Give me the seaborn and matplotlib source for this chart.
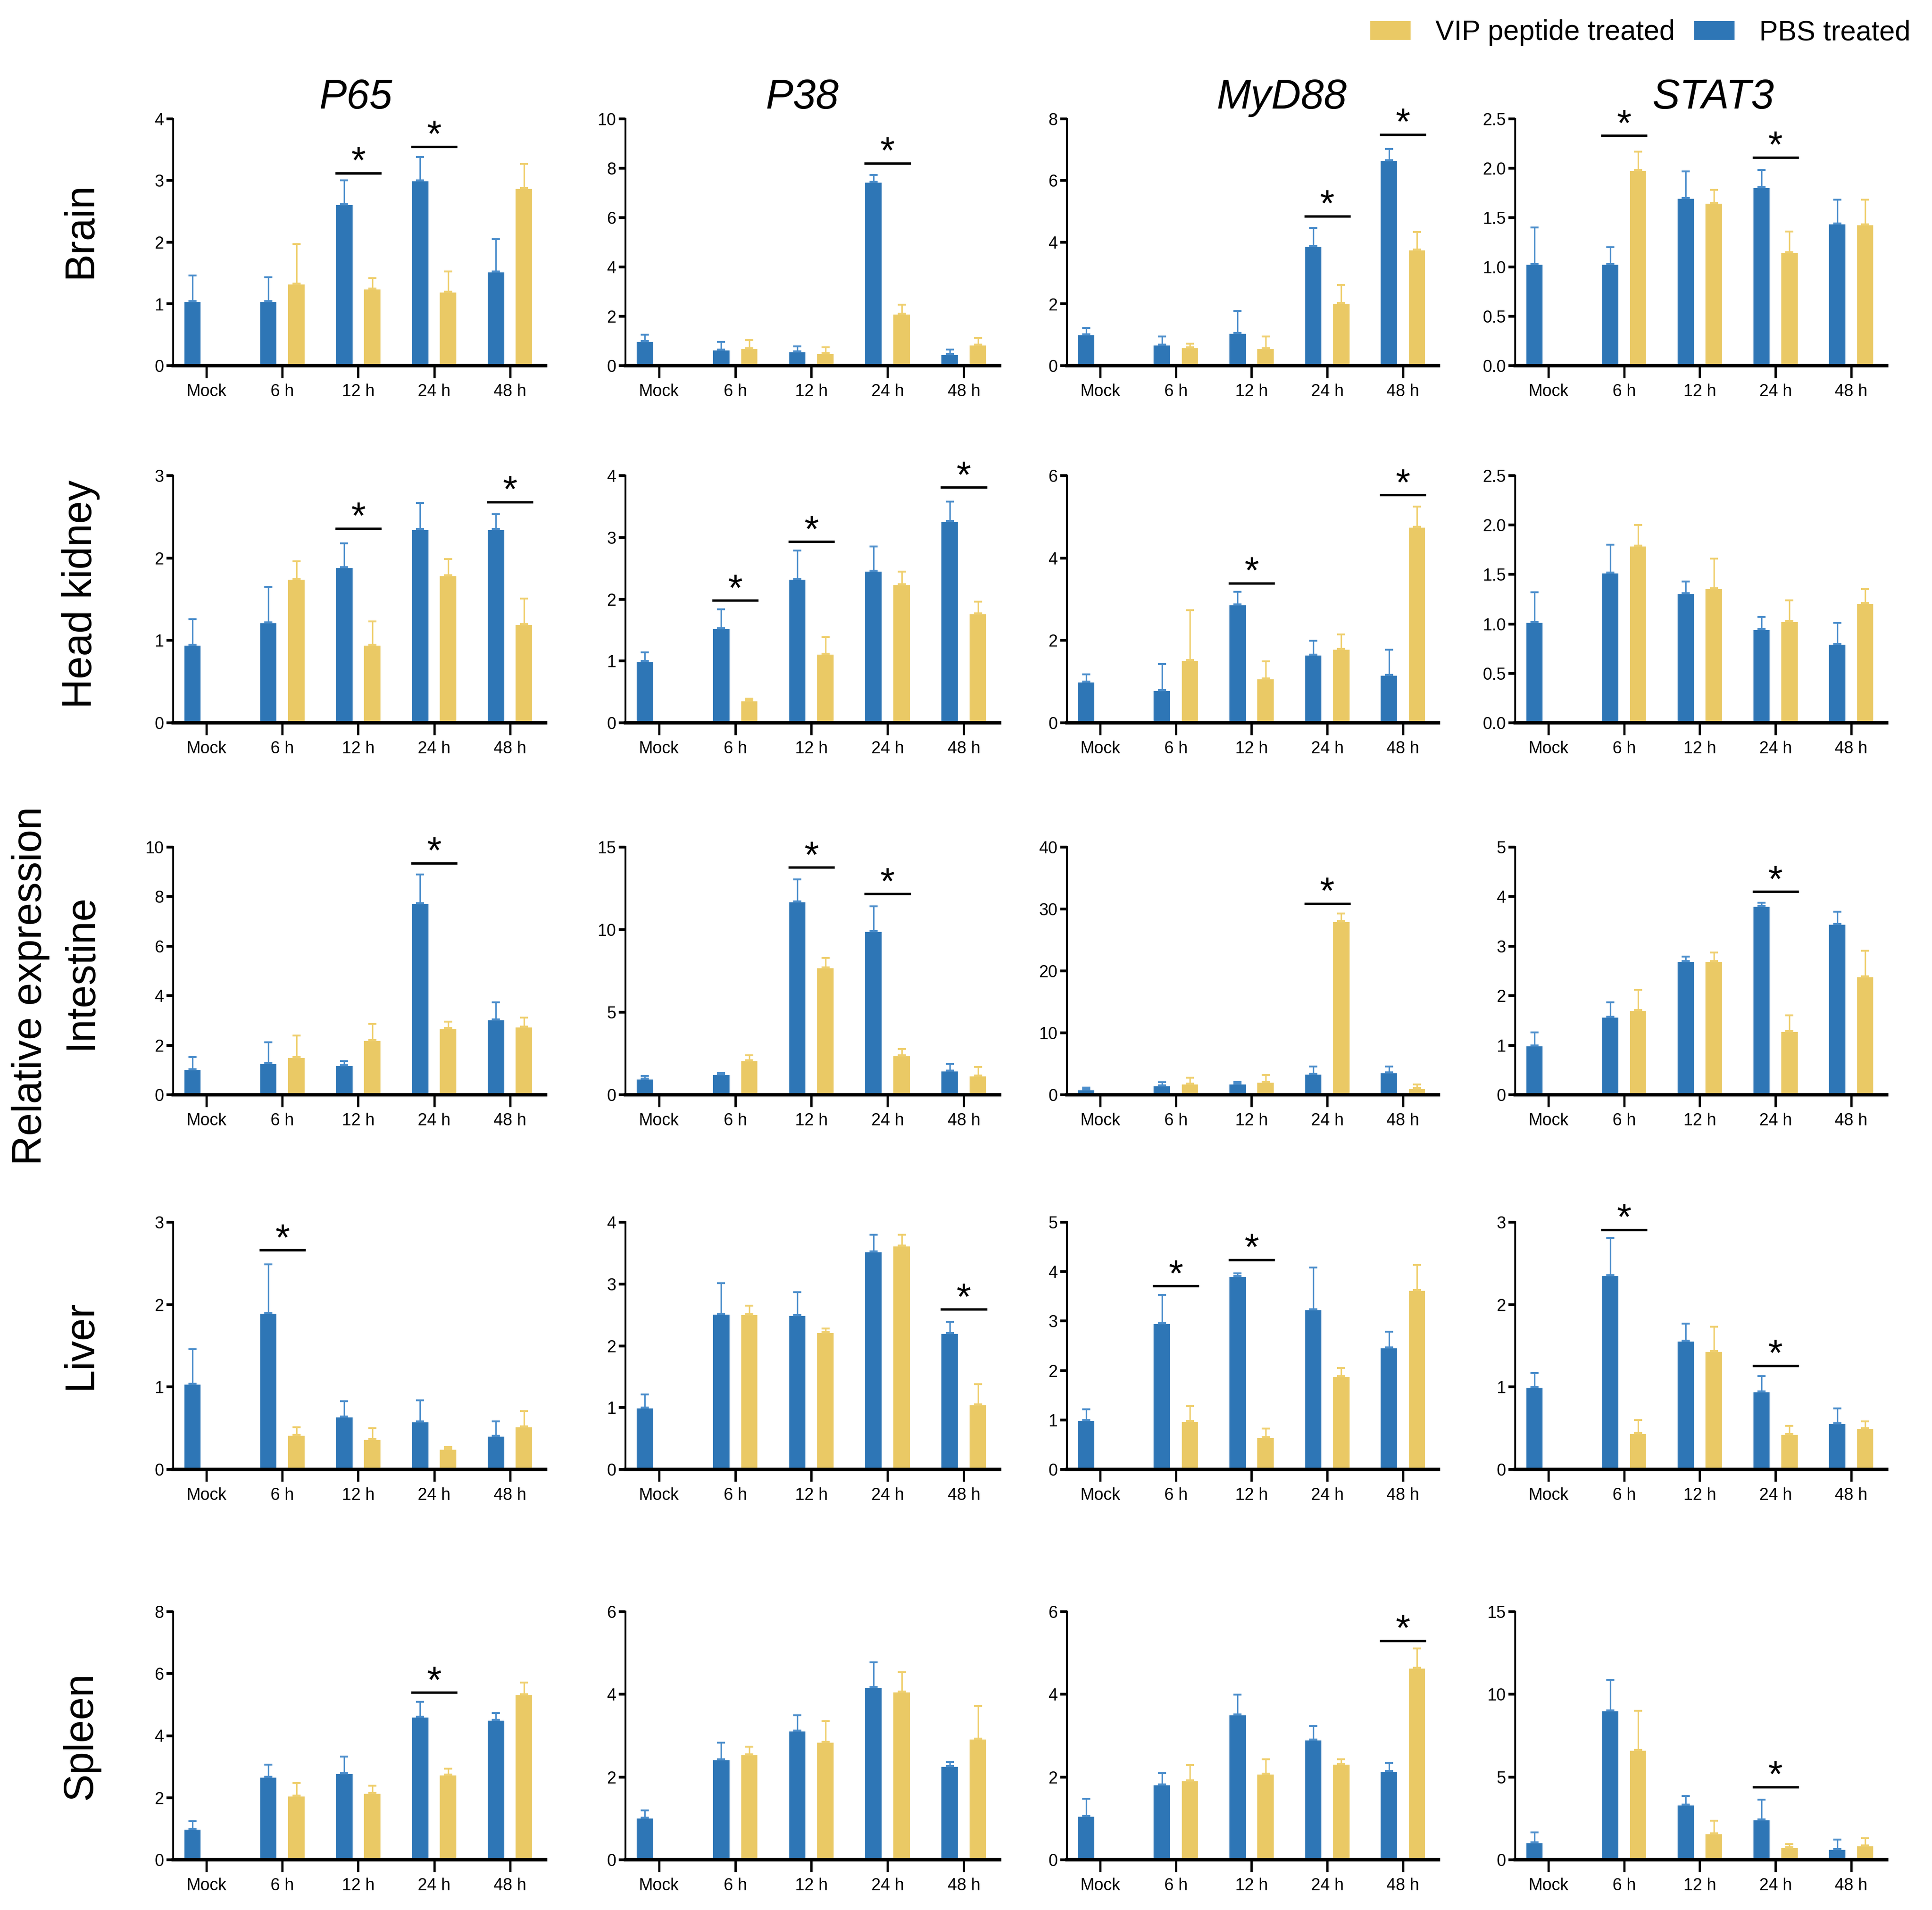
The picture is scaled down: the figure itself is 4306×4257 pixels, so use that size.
import numpy as np
import pandas as pd
import seaborn as sns
import matplotlib.pyplot as plt
from matplotlib.patches import Patch
from matplotlib.ticker import FormatStrFormatter


NA = np.nan

TIMES = ['Mock', '6 h', '12 h', '24 h', '48 h']
TISSUES = ['Brain', 'Head kidney', 'Intestine', 'Liver', 'Spleen']
GENES = ['P65', 'P38', 'MyD88', 'STAT3']
PBS = 'PBS treated'
VIP = 'VIP peptide treated'

# mean / SD per panel, Mock has no VIP group
brain_p65_pbs = [1.05, 1.05, 2.62, 3.00, 1.53]
brain_p65_pbs_sd = [0.41, 0.38, 0.38, 0.38, 0.52]
brain_p65_vip = [NA, 1.33, 1.25, 1.20, 2.88]
brain_p65_vip_sd = [NA, 0.64, 0.17, 0.33, 0.39]

brain_p38_pbs = [1.00, 0.66, 0.58, 7.46, 0.47]
brain_p38_pbs_sd = [0.25, 0.30, 0.20, 0.27, 0.18]
brain_p38_vip = [NA, 0.71, 0.51, 2.10, 0.85]
brain_p38_vip_sd = [NA, 0.32, 0.24, 0.38, 0.27]

brain_myd88_pbs = [1.02, 0.68, 1.06, 3.88, 6.66]
brain_myd88_pbs_sd = [0.20, 0.27, 0.72, 0.58, 0.36]
brain_myd88_vip = [NA, 0.59, 0.57, 2.03, 3.77]
brain_myd88_vip_sd = [NA, 0.12, 0.38, 0.59, 0.56]

brain_stat3_pbs = [1.03, 1.03, 1.70, 1.81, 1.44]
brain_stat3_pbs_sd = [0.37, 0.17, 0.27, 0.17, 0.24]
brain_stat3_vip = [NA, 1.98, 1.65, 1.15, 1.43]
brain_stat3_vip_sd = [NA, 0.19, 0.13, 0.21, 0.25]

hk_p65_pbs = [0.95, 1.22, 1.89, 2.35, 2.35]
hk_p65_pbs_sd = [0.31, 0.43, 0.29, 0.32, 0.18]
hk_p65_vip = [NA, 1.75, 0.95, 1.79, 1.20]
hk_p65_vip_sd = [NA, 0.21, 0.28, 0.20, 0.31]

hk_p38_pbs = [1.00, 1.53, 2.33, 2.46, 3.27]
hk_p38_pbs_sd = [0.14, 0.31, 0.46, 0.39, 0.31]
hk_p38_vip = [NA, 0.36, 1.12, 2.24, 1.77]
hk_p38_vip_sd = [NA, 0.03, 0.27, 0.21, 0.19]

hk_myd88_pbs = [1.00, 0.80, 2.87, 1.65, 1.16]
hk_myd88_pbs_sd = [0.18, 0.63, 0.31, 0.34, 0.61]
hk_myd88_vip = [NA, 1.52, 1.08, 1.80, 4.76]
hk_myd88_vip_sd = [NA, 1.21, 0.41, 0.35, 0.49]

hk_stat3_pbs = [1.02, 1.52, 1.31, 0.95, 0.80]
hk_stat3_pbs_sd = [0.30, 0.28, 0.12, 0.12, 0.21]
hk_stat3_vip = [NA, 1.79, 1.36, 1.03, 1.21]
hk_stat3_vip_sd = [NA, 0.21, 0.30, 0.21, 0.14]

int_p65_pbs = [1.04, 1.29, 1.20, 7.74, 3.04]
int_p65_pbs_sd = [0.49, 0.83, 0.15, 1.16, 0.70]
int_p65_vip = [NA, 1.53, 2.21, 2.70, 2.75]
int_p65_vip_sd = [NA, 0.86, 0.65, 0.25, 0.36]

int_p38_pbs = [0.99, 1.26, 11.70, 9.93, 1.46]
int_p38_pbs_sd = [0.16, 0.06, 1.35, 1.47, 0.42]
int_p38_vip = [NA, 2.08, 7.71, 2.38, 1.17]
int_p38_vip_sd = [NA, 0.30, 0.57, 0.40, 0.51]

int_myd88_pbs = [0.88, 1.52, 1.84, 3.43, 3.65]
int_myd88_pbs_sd = [0.25, 0.48, 0.26, 1.10, 0.88]
int_myd88_vip = [NA, 1.84, 2.10, 28.07, 1.06]
int_myd88_vip_sd = [NA, 0.89, 1.10, 1.20, 0.60]

int_stat3_pbs = [1.00, 1.58, 2.70, 3.81, 3.45]
int_stat3_pbs_sd = [0.26, 0.29, 0.09, 0.07, 0.25]
int_stat3_vip = [NA, 1.71, 2.70, 1.29, 2.39]
int_stat3_vip_sd = [NA, 0.41, 0.17, 0.31, 0.52]

liver_p65_pbs = [1.04, 1.90, 0.64, 0.58, 0.41]
liver_p65_pbs_sd = [0.42, 0.59, 0.19, 0.26, 0.17]
liver_p65_vip = [NA, 0.42, 0.37, 0.25, 0.52]
liver_p65_vip_sd = [NA, 0.09, 0.13, 0.02, 0.19]

liver_p38_pbs = [1.00, 2.52, 2.50, 3.53, 2.21]
liver_p38_pbs_sd = [0.21, 0.49, 0.37, 0.27, 0.18]
liver_p38_vip = [NA, 2.51, 2.22, 3.62, 1.05]
liver_p38_vip_sd = [NA, 0.14, 0.06, 0.18, 0.33]

liver_myd88_pbs = [1.00, 2.96, 3.91, 3.24, 2.47]
liver_myd88_pbs_sd = [0.22, 0.57, 0.06, 0.84, 0.32]
liver_myd88_vip = [NA, 0.98, 0.65, 1.89, 3.63]
liver_myd88_vip_sd = [NA, 0.30, 0.18, 0.16, 0.51]

liver_stat3_pbs = [1.00, 2.36, 1.56, 0.95, 0.56]
liver_stat3_pbs_sd = [0.17, 0.45, 0.21, 0.18, 0.18]
liver_stat3_vip = [NA, 0.44, 1.44, 0.43, 0.50]
liver_stat3_vip_sd = [NA, 0.16, 0.29, 0.10, 0.08]

spleen_p65_pbs = [1.00, 2.67, 2.79, 4.62, 4.52]
spleen_p65_pbs_sd = [0.25, 0.40, 0.54, 0.47, 0.21]
spleen_p65_vip = [NA, 2.07, 2.15, 2.75, 5.34]
spleen_p65_vip_sd = [NA, 0.40, 0.24, 0.18, 0.37]

spleen_p38_pbs = [1.02, 2.43, 3.12, 4.18, 2.27]
spleen_p38_pbs_sd = [0.17, 0.40, 0.37, 0.59, 0.10]
spleen_p38_vip = [NA, 2.55, 2.85, 4.07, 2.93]
spleen_p38_vip_sd = [NA, 0.18, 0.50, 0.47, 0.79]

spleen_myd88_pbs = [1.06, 1.82, 3.52, 2.91, 2.15]
spleen_myd88_pbs_sd = [0.42, 0.27, 0.47, 0.32, 0.19]
spleen_myd88_vip = [NA, 1.92, 2.08, 2.32, 4.64]
spleen_myd88_vip_sd = [NA, 0.37, 0.35, 0.11, 0.47]

spleen_stat3_pbs = [1.06, 9.04, 3.34, 2.44, 0.66]
spleen_stat3_pbs_sd = [0.60, 1.83, 0.50, 1.19, 0.55]
spleen_stat3_vip = [NA, 6.65, 1.59, 0.75, 0.87]
spleen_stat3_vip_sd = [NA, 2.35, 0.76, 0.21, 0.44]

# (time index, bracket height) of significant differences
brain_stars = [[(2, 3.12), (3, 3.55)], [(3, 8.2)], [(3, 4.85), (4, 7.49)], [(1, 2.33), (3, 2.11)]]
hk_stars = [[(2, 2.36), (4, 2.68)], [(1, 1.98), (2, 2.93), (4, 3.81)], [(2, 3.39), (4, 5.53)], []]
int_stars = [[(3, 9.35)], [(2, 13.77), (3, 12.17)], [(3, 30.9)], [(3, 4.10)]]
liver_stars = [[(1, 2.66)], [(4, 2.59)], [(1, 3.71), (2, 4.24)], [(1, 2.91), (3, 1.26)]]
spleen_stars = [[(3, 5.39)], [], [(4, 5.30)], [(3, 4.40)]]

# y-axis (max, step)
brain_yaxis = [(4, 1), (10, 2), (8, 2), (2.5, 0.5)]
hk_yaxis = [(3, 1), (4, 1), (6, 2), (2.5, 0.5)]
int_yaxis = [(10, 2), (15, 5), (40, 10), (5, 1)]
liver_yaxis = [(3, 1), (4, 1), (5, 1), (3, 1)]
spleen_yaxis = [(8, 2), (6, 2), (6, 2), (15, 5)]

PANELS = [
    [(brain_p65_pbs, brain_p65_pbs_sd, brain_p65_vip, brain_p65_vip_sd),
     (brain_p38_pbs, brain_p38_pbs_sd, brain_p38_vip, brain_p38_vip_sd),
     (brain_myd88_pbs, brain_myd88_pbs_sd, brain_myd88_vip, brain_myd88_vip_sd),
     (brain_stat3_pbs, brain_stat3_pbs_sd, brain_stat3_vip, brain_stat3_vip_sd)],
    [(hk_p65_pbs, hk_p65_pbs_sd, hk_p65_vip, hk_p65_vip_sd),
     (hk_p38_pbs, hk_p38_pbs_sd, hk_p38_vip, hk_p38_vip_sd),
     (hk_myd88_pbs, hk_myd88_pbs_sd, hk_myd88_vip, hk_myd88_vip_sd),
     (hk_stat3_pbs, hk_stat3_pbs_sd, hk_stat3_vip, hk_stat3_vip_sd)],
    [(int_p65_pbs, int_p65_pbs_sd, int_p65_vip, int_p65_vip_sd),
     (int_p38_pbs, int_p38_pbs_sd, int_p38_vip, int_p38_vip_sd),
     (int_myd88_pbs, int_myd88_pbs_sd, int_myd88_vip, int_myd88_vip_sd),
     (int_stat3_pbs, int_stat3_pbs_sd, int_stat3_vip, int_stat3_vip_sd)],
    [(liver_p65_pbs, liver_p65_pbs_sd, liver_p65_vip, liver_p65_vip_sd),
     (liver_p38_pbs, liver_p38_pbs_sd, liver_p38_vip, liver_p38_vip_sd),
     (liver_myd88_pbs, liver_myd88_pbs_sd, liver_myd88_vip, liver_myd88_vip_sd),
     (liver_stat3_pbs, liver_stat3_pbs_sd, liver_stat3_vip, liver_stat3_vip_sd)],
    [(spleen_p65_pbs, spleen_p65_pbs_sd, spleen_p65_vip, spleen_p65_vip_sd),
     (spleen_p38_pbs, spleen_p38_pbs_sd, spleen_p38_vip, spleen_p38_vip_sd),
     (spleen_myd88_pbs, spleen_myd88_pbs_sd, spleen_myd88_vip, spleen_myd88_vip_sd),
     (spleen_stat3_pbs, spleen_stat3_pbs_sd, spleen_stat3_vip, spleen_stat3_vip_sd)],
]
STARS = [brain_stars, hk_stars, int_stars, liver_stars, spleen_stars]
YAXES = [brain_yaxis, hk_yaxis, int_yaxis, liver_yaxis, spleen_yaxis]

PBS_COLOR = '#2E76B6'
VIP_COLOR = '#EAC965'
PBS_ERR = '#4A8DCB'
VIP_ERR = '#EFCF6E'

# layout in pixels of the 4306 x 4257 canvas
W, H = 4306, 4257
COL_LEFT = [386, 1394, 2378, 3377]
COL_RIGHT = [1216, 2228, 3206, 4205]
ROW_TOP = [265, 1060, 1888, 2724, 3592]
ROW_BOTTOM = [815, 1611, 2440, 3275, 4145]
TITLE_X = [793, 1788, 2856, 3818]
ROW_LABEL_Y = [513, 1324, 2166, 2998, 3868]


sns.set_theme(style='ticks', rc={'axes.edgecolor': 'black', 'xtick.color': 'black',
                                 'ytick.color': 'black', 'text.color': 'black',
                                 'axes.labelcolor': 'black'})
plt.rcParams['font.family'] = ['Liberation Sans', 'DejaVu Sans']


def make_frame(pbs, vip):
    rows = []
    for t, v in zip(TIMES, pbs):
        rows.append({'time': t, 'treatment': PBS, 'value': v})
    for t, v in zip(TIMES, vip):
        if not np.isnan(v):
            rows.append({'time': t, 'treatment': VIP, 'value': v})
    return pd.DataFrame(rows)


def draw_panel(ax, pbs, pbs_sd, vip, vip_sd, stars, ymax, step):
    df = make_frame(pbs, vip)
    sns.barplot(data=df, x='time', y='value', hue='treatment', order=TIMES,
                hue_order=[PBS, VIP], palette=[PBS_COLOR, VIP_COLOR],
                width=0.74, gap=0.35, saturation=1, errorbar=None,
                legend=False, ax=ax)

    # upper error bars only
    sds = [list(pbs_sd), [s for s in vip_sd if not np.isnan(s)]]
    for cont, sd, col in zip(ax.containers, sds, [PBS_ERR, VIP_ERR]):
        xs = [b.get_x() + b.get_width() / 2 for b in cont]
        hs = [b.get_height() for b in cont]
        ax.errorbar(xs, hs, yerr=[np.zeros(len(sd)), sd], fmt='none',
                    ecolor=col, elinewidth=0.8, capsize=2.2, capthick=1.0)

    pbs_bars = ax.containers[0]
    vip_bars = ax.containers[1]
    for idx, h in stars:
        left = pbs_bars[idx].get_x()
        right = vip_bars[idx - 1].get_x() + vip_bars[idx - 1].get_width()
        ax.plot([left, right], [h, h], color='black', lw=1.3,
                solid_capstyle='butt', clip_on=False)
        ax.text((left + right) / 2, h, '*', ha='center', va='baseline',
                fontsize=20, clip_on=False)

    ax.set_xlim(-0.44, 4.47)
    ax.set_ylim(0, ymax)
    ax.set_yticks(np.arange(0, ymax + step / 2, step))
    if step < 1:
        ax.yaxis.set_major_formatter(FormatStrFormatter('%.1f'))
    ax.set_xlabel('')
    ax.set_ylabel('')
    sns.despine(ax=ax)
    ax.spines['left'].set_linewidth(1.0)
    ax.spines['bottom'].set_linewidth(1.8)
    ax.tick_params(axis='x', length=6.5, width=1.2, pad=3, labelsize=9)
    ax.tick_params(axis='y', length=3.5, width=1.5, pad=1.5, labelsize=9)


fig = plt.figure(figsize=(W / 300, H / 300), dpi=300)

for r in range(len(TISSUES)):
    for c in range(len(GENES)):
        rect = [COL_LEFT[c] / W, 1 - ROW_BOTTOM[r] / H,
                (COL_RIGHT[c] - COL_LEFT[c]) / W, (ROW_BOTTOM[r] - ROW_TOP[r]) / H]
        ax = fig.add_axes(rect)
        pbs, pbs_sd, vip, vip_sd = PANELS[r][c]
        ymax, step = YAXES[r][c]
        draw_panel(ax, pbs, pbs_sd, vip, vip_sd, STARS[r][c], ymax, step)

for c, gene in enumerate(GENES):
    fig.text(TITLE_X[c] / W, 1 - 218 / H, gene, fontsize=22, style='italic',
             ha='center', va='center')

for r, tissue in enumerate(TISSUES):
    fig.text(180 / W, 1 - ROW_LABEL_Y[r] / H, tissue, fontsize=22, rotation=90,
             ha='center', va='center')

fig.text(68 / W, 1 - 2197 / H, 'Relative expression', fontsize=22, rotation=90,
         ha='center', va='center')

handles = [Patch(facecolor=VIP_COLOR), Patch(facecolor=PBS_COLOR)]
fig.legend(handles, [VIP, PBS], loc='center right', bbox_to_anchor=(4258 / W, 1 - 73 / H),
           ncol=2, frameon=False, fontsize=15, handlelength=1.5, handleheight=0.75,
           handletextpad=0.85, columnspacing=0.65, borderpad=0, borderaxespad=0)

fig.savefig('out.png', dpi=300)
